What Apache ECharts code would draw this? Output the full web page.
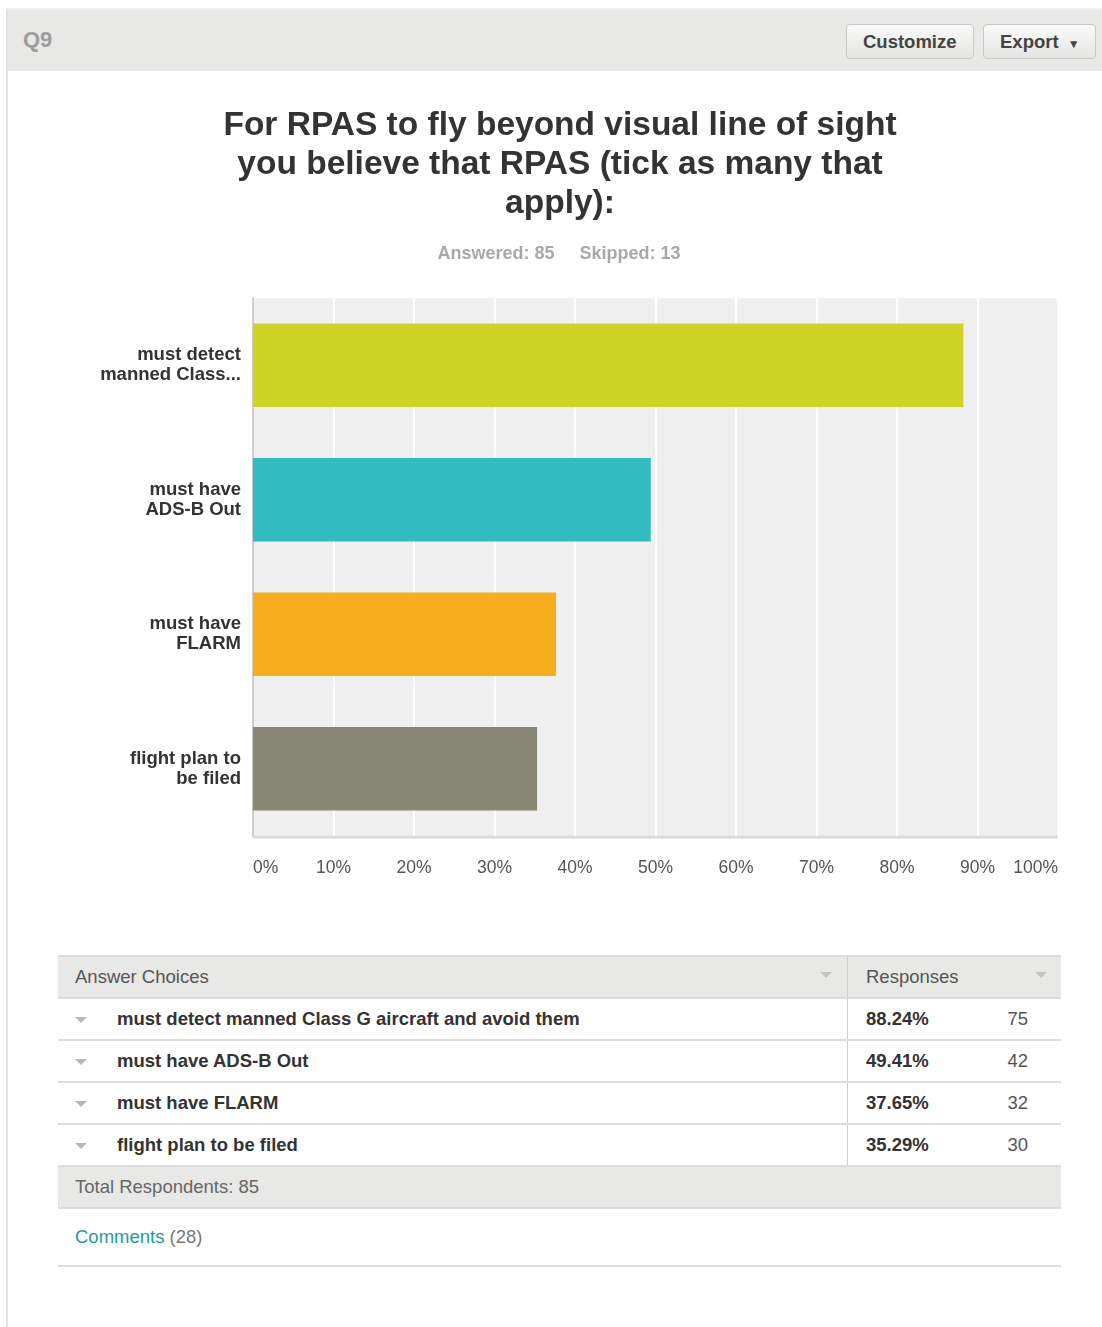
<!DOCTYPE html>
<html>
<head>
<meta charset="utf-8">
<script src="https://cdn.jsdelivr.net/npm/echarts@6/dist/echarts.min.js"></script>
<style>
  html, body { margin: 0; padding: 0; background: #fff; }
  body { width: 1102px; height: 1327px; position: relative; overflow: hidden;
         font-family: "Liberation Sans", Arial, sans-serif; }
  #frame { position: absolute; left: 6px; top: 8px; width: 1096px; height: 1319px;
           border-left: 2px solid #e2e2e2; border-top: 2px solid #f0f0f0; box-sizing: border-box; }
  #head { position: absolute; left: 8px; top: 10px; width: 1094px; height: 61px; background: #e8e8e7; }
  #qnum { position: absolute; left: 15px; top: 17px; font-size: 22px; font-weight: bold; color: #9c9c9c; }
  .btn { position: absolute; top: 14px; height: 35px; box-sizing: border-box; border: 1px solid #c8c8c8;
         border-radius: 4px; background: linear-gradient(#fafafa, #e4e4e2); color: #444;
         font-size: 18.5px; font-weight: bold; line-height: 34px; padding-left: 16px; }
  #chart { position: absolute; left: 0; top: 72px; width: 1102px; height: 850px; }
  #tbl { position: absolute; left: 58px; top: 955px; width: 1003px; border-collapse: collapse;
         font-size: 18.5px; }
  #tbl td { height: 40px; padding: 0; border-top: 2px solid #dcdcdc; vertical-align: middle; }
  #tbl tr.hdr td { background: #e8e8e7; color: #555; height: 40px; }
  #tbl td.c1 { width: 789px; }
  #tbl td.c2 { border-left: 1px solid #cfcfcf; }
  .tri { display: inline-block; width: 0; height: 0; border-left: 6px solid transparent;
         border-right: 6px solid transparent; border-top: 6px solid #b8b8b8; vertical-align: middle; }
  .choice { font-weight: bold; color: #333; }
  .pct { font-weight: bold; color: #333; }
  .cnt { color: #555; }
  #tbl tr.tot td { background: #e8e8e7; color: #666; }
  #tbl tr.com td { height: 56px; border-bottom: 2px solid #dcdcdc; }
</style>
</head>
<body>
<div id="frame"></div>
<div id="head">
  <div id="qnum">Q9</div>
  <div class="btn" style="left:838px;width:128px;">Customize</div>
  <div class="btn" style="left:975px;width:113px;">Export <span style="font-size:12px;margin-left:4px;">&#9660;</span></div>
</div>
<div id="chart"></div>
<table id="tbl"></table>
<script>
// Survey question and summary
const questionTitle = 'For RPAS to fly beyond visual line of sight\nyou believe that RPAS (tick as many that\napply):';
const answered = 85;
const skipped = 13;
const commentCount = 28;

// Answer choices (full text), short axis labels, results
const choices = [
  'must detect manned Class G aircraft and avoid them',
  'must have ADS-B Out',
  'must have FLARM',
  'flight plan to be filed'
];
const axisLabels = [
  'must detect\nmanned Class...',
  'must have\nADS-B Out',
  'must have\nFLARM',
  'flight plan to\nbe filed'
];
const percents = [88.24, 49.41, 37.65, 35.29];
const counts = [75, 42, 32, 30];
const barColors = ['#cfd424', '#33bcbf', '#f6ae1f', '#888875'];

const chart = echarts.init(document.getElementById('chart'), null, { renderer: 'canvas' });
chart.setOption({
  animation: false,
  title: [
    {
      text: questionTitle,
      left: 555, top: 29, textAlign: 'center',
      textStyle: { fontFamily: 'Liberation Sans, Arial', fontSize: 33.5, fontWeight: 'bold',
                   color: '#333', lineHeight: 39 }
    },
    {
      text: 'Answered: ' + answered + '     Skipped: ' + skipped,
      left: 554, top: 168, textAlign: 'center',
      textStyle: { fontFamily: 'Liberation Sans, Arial', fontSize: 18, fontWeight: 'bold', color: '#a8a8a8' }
    }
  ],
  grid: { left: 253, top: 226, width: 805, height: 538, show: true,
          backgroundColor: '#efefef', borderWidth: 0, containLabel: false },
  xAxis: {
    type: 'value', min: 0, max: 100, interval: 10,
    axisLine: { show: false },
    axisTick: { show: false },
    splitLine: { show: true, lineStyle: { color: '#ffffff', width: 2 } },
    axisLabel: {
      formatter: '{value}%', color: '#555', fontSize: 17.5, margin: 23,
      fontFamily: 'Liberation Sans, Arial',
      alignMinLabel: 'left', alignMaxLabel: 'right'
    }
  },
  yAxis: {
    type: 'category', data: axisLabels, inverse: true,
    axisLine: { show: true, lineStyle: { color: '#cfcfcf', width: 2 } },
    axisTick: { show: false },
    axisLabel: { color: '#333', fontSize: 18.5, fontWeight: 'bold', lineHeight: 20,
                 margin: 12, padding: [6, 0, 0, 0], fontFamily: 'Liberation Sans, Arial', align: 'right' }
  },
  series: [
    {
      type: 'bar',
      data: percents.map((v, i) => ({ value: v, itemStyle: { color: barColors[i] } })),
      barCategoryGap: '38%'
    }
  ],
  // Bottom axis rule of the plot area
  graphic: [{
    type: 'line',
    shape: { x1: 253, y1: 765, x2: 1058, y2: 765 },
    style: { stroke: '#dadada', lineWidth: 3 }
  }]
});

// Results table
const tbl = document.getElementById('tbl');
let html = '<tr class="hdr"><td class="c1"><span style="margin-left:17px;">Answer Choices</span>' +
  '<span class="tri" style="float:right;margin-right:15px;margin-top:6px;border-top-color:#c4c4c4;"></span></td>' +
  '<td class="c2"><span style="margin-left:18px;">Responses</span>' +
  '<span class="tri" style="float:right;margin-right:14px;margin-top:6px;border-top-color:#c4c4c4;"></span></td></tr>';
choices.forEach((c, i) => {
  html += '<tr><td class="c1"><span class="tri" style="margin-left:17px;margin-right:30px;"></span>' +
    '<span class="choice">' + c + '</span></td>' +
    '<td class="c2"><span class="pct" style="display:inline-block;margin-left:18px;width:110px;">' +
    percents[i].toFixed(2) + '%</span><span class="cnt" style="display:inline-block;width:52px;text-align:right;">' +
    counts[i] + '</span></td></tr>';
});
html += '<tr class="tot"><td colspan="2"><span style="margin-left:17px;">Total Respondents: ' + answered + '</span></td></tr>';
html += '<tr class="com"><td colspan="2"><span style="margin-left:17px;color:#1e9c9c;">Comments</span>' +
  '<span style="color:#777;"> (' + commentCount + ')</span></td></tr>';
tbl.innerHTML = html;
</script>
</body>
</html>
